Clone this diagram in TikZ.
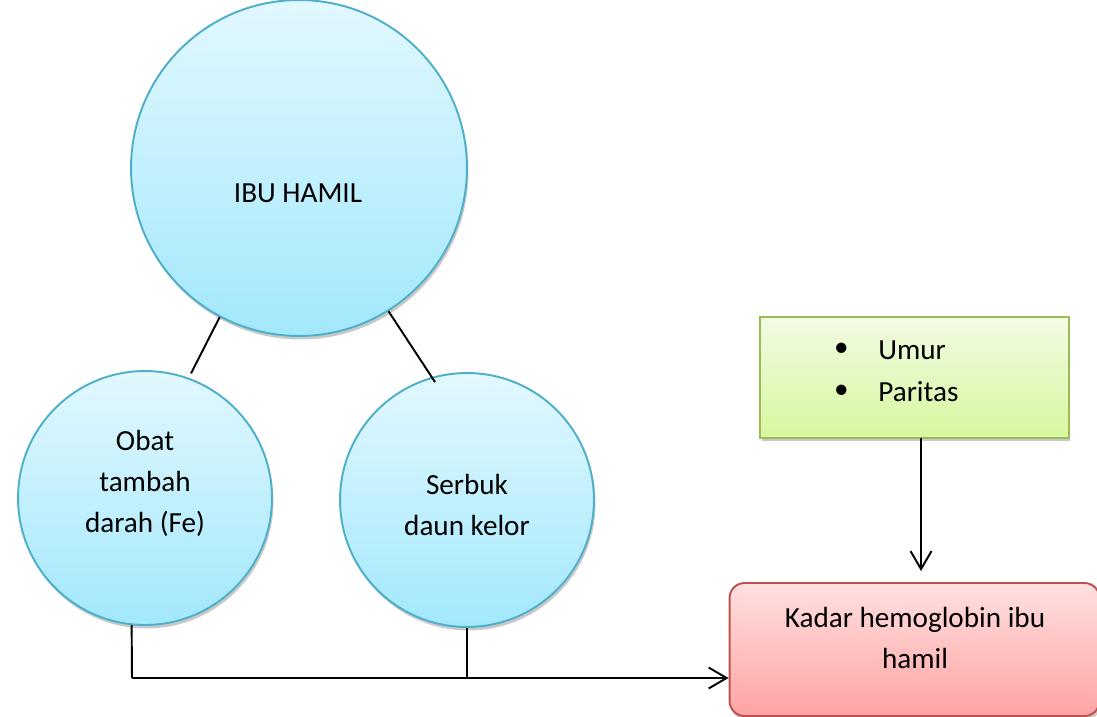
\documentclass[tikz,border=0pt]{standalone}
\usepackage{fontspec}
\setmainfont{Carlito}
\usetikzlibrary{arrows.meta,shadows,calc}
\definecolor{cirtop}{HTML}{E2F8FE}
\definecolor{cirbot}{HTML}{A3E8FC}
\definecolor{cirline}{HTML}{4EAFC9}
\definecolor{grtop}{HTML}{F2FBE3}
\definecolor{grbot}{HTML}{D6F79E}
\definecolor{grline}{HTML}{9BBB59}
\definecolor{rdtop}{HTML}{FFE0E0}
\definecolor{rdbot}{HTML}{FFA3A3}
\definecolor{rdline}{HTML}{C0504D}
\tikzset{
  shad/.style={drop shadow={shadow xshift=0.03cm, shadow yshift=-0.07cm, opacity=0.3, fill=black!70}},
  bubble/.style={circle, draw=cirline, line width=1.1pt, top color=cirtop, bottom color=cirbot, shad, inner sep=0pt},
  greenbox/.style={rectangle, draw=grline, line width=1.1pt, top color=grtop, bottom color=grbot, shad, inner sep=0pt},
  redbox/.style={rectangle, rounded corners=0.3cm, draw=rdline, line width=1.1pt, top color=rdtop, bottom color=rdbot, shad, inner sep=0pt},
  txt/.style={font=\fontsize{16.6}{23.3}\selectfont, align=center, text=black},
  link/.style={line width=1.1pt, black},
  arr/.style={line width=1.1pt, black, -{Straight Barb[length=0.36cm, width=0.42cm, line width=1.1pt]}}
}
\begin{document}
\begin{tikzpicture}[x=0.02cm, y=-0.02cm]
\useasboundingbox (0,0) rectangle (1097,716);
\begin{scope}
\clip (0,0) rectangle (1097,716);
\node[bubble, minimum size=6.72cm] (big) at (299,168) {};
\node[bubble, minimum size=5.08cm] (left) at (145,498) {};
\node[bubble, minimum size=5.08cm] (right) at (467,500) {};
\node[greenbox, minimum width=6.18cm, minimum height=2.42cm] (green) at (914.5,377.5) {};
\node[redbox, minimum width=7.4cm, minimum height=2.66cm] (red) at (914.5,649.5) {};
\end{scope}

\node[txt] (tbig) at (298,193) {IBU HAMIL};
\node[txt] (tleft) at (145,483) {Obat\\tambah\\darah (Fe)};
\node[txt] (tright) at (467,505) {Serbuk\\daun kelor};
\node[txt, anchor=west] (b1) at (828,350) {\textbullet};
\node[txt, anchor=west] (b2) at (828,392) {\textbullet};
\node[txt, anchor=west, inner xsep=0pt] (umur) at (878,350) {Umur};
\node[txt, anchor=west, inner xsep=0pt] (paritas) at (878,392) {Paritas};
\node[txt] (tred) at (915,638) {Kadar hemoglobin ibu\\hamil};

\draw[link, shorten >=0.1cm] (big.-118) -- (left.70);
\draw[link, shorten >=-0.12cm] (big.-58) -- (right.106);

\coordinate (jl) at (132,678);
\draw[link] (left.-96) -- (jl);
\draw[link] (right.south) -- (right.south |- jl);
\draw[arr] (jl) -- (jl -| red.west);
\coordinate (ga) at (921,438);
\coordinate (gb) at (921,571);
\draw[arr] (ga) -- (gb);
\end{tikzpicture}
\end{document}
